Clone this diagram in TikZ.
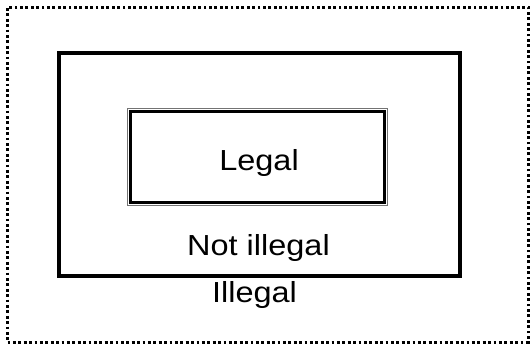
\documentclass[tikz,border=0pt]{standalone}
\usepackage{fontspec}
\newfontfamily\labfont[FakeStretch=1.12]{Liberation Sans}
\begin{document}
\begin{tikzpicture}[x=1pt,y=-1pt,
  box/.style={draw,rectangle,inner sep=0pt,minimum width=#1},
  lab/.style={anchor=base,inner sep=0pt,font=\labfont\fontsize{29}{34}\selectfont}]
\useasboundingbox (0,0) rectangle (531,346);
% outer dotted region
\node[box=520.5pt,minimum height=335pt,line width=3pt,dash pattern=on 2.8pt off 2.6pt] (outer) at (267.75,174.5) {};
% middle region
\node[box=401pt,minimum height=223pt,line width=4pt] (middle) at (259.5,164.5) {};
% inner region (double line)
\node[box=260pt,minimum height=96.5pt,line width=1pt,draw=black!55] (innerg) at (257.5,156.75) {};
\node[box=254pt,minimum height=90.5pt,line width=3pt] (inner) at (257.5,156.75) {};
% labels
\node[lab] (legal) at (259,170) {Legal};
\node[lab] (notillegal) at (258.5,255) {Not illegal};
\node[lab] (illegal) at (254.5,302) {Illegal};
\end{tikzpicture}
\end{document}
